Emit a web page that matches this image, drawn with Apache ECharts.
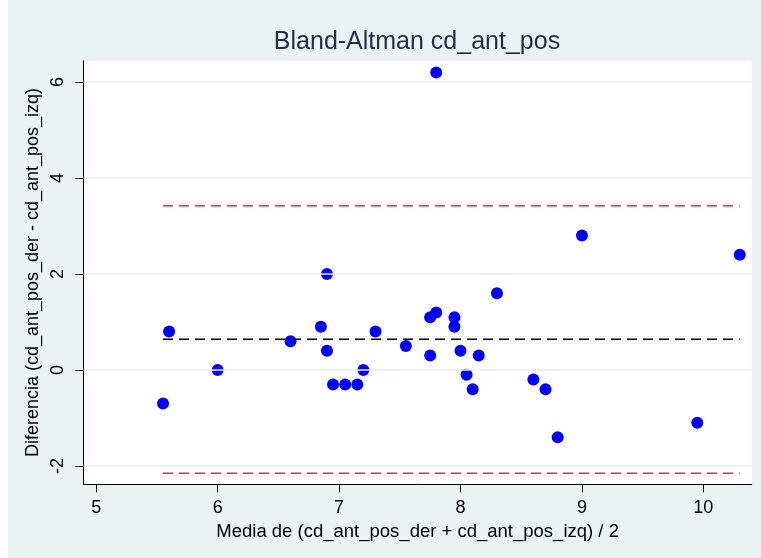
<!DOCTYPE html>
<html>
<head>
<meta charset="utf-8">
<script src="https://cdn.jsdelivr.net/npm/echarts@6/dist/echarts.min.js"></script>
<style>
html,body{margin:0;padding:0;background:#FFFFFF;}
#chart{width:761px;height:558px;}
</style>
</head>
<body>
<div id="chart"></div>
<script>
// Data
var meanVals = [5.55, 5.6, 6.0, 6.6, 6.85, 6.9, 6.9, 6.95, 7.05, 7.15, 7.2, 7.3, 7.55, 7.75, 7.8, 7.75, 7.8, 7.95, 7.95, 8.0, 8.05, 8.1, 8.15, 8.3, 8.6, 8.7, 8.8, 9.0, 9.95, 10.3];
var diffVals = [-0.7, 0.8, 0.0, 0.6, 0.9, 0.4, 2.0, -0.3, -0.3, -0.3, 0.0, 0.8, 0.5, 1.1, 1.2, 0.3, 6.2, 1.1, 0.9, 0.4, -0.1, -0.4, 0.3, 1.6, -0.2, -0.4, -1.4, 2.8, -1.1, 2.4];
var meanDiff = 0.64;
var upperLoA = 3.42;
var lowerLoA = -2.15;
var xTicks = [5, 6, 7, 8, 9, 10];
var yTicks = [-2, 0, 2, 4, 6];
var xRange = [4.895, 10.398];
var yRange = [-2.381, 6.444];

var points = meanVals.map(function (m, i) { return [m, diffVals[i]]; });
var xMin = Math.min.apply(null, meanVals);
var xMax = Math.max.apply(null, meanVals);

var chart = echarts.init(document.getElementById('chart'));
var font = '"Liberation Sans", Arial, Helvetica, sans-serif';

function hLine(y, color) {
  return {
    type: 'line',
    data: [[xMin, y], [xMax, y]],
    symbol: 'none',
    silent: true,
    z: 5,
    lineStyle: { color: color, width: 1.5, type: [10, 6] },
    animation: false
  };
}

chart.setOption({
  backgroundColor: '#FFFFFF',
  animation: false,
  graphic: [{
    type: 'rect', left: 8, top: 0, z: -10, silent: true,
    shape: { width: 753, height: 558 },
    style: { fill: '#EAF2F3' }
  }],
  title: {
    text: 'Bland-Altman cd_ant_pos',
    left: 417, top: 30, textAlign: 'center', padding: 0,
    textStyle: { fontFamily: font, fontSize: 25, fontWeight: 'normal', color: '#1F2D4E' }
  },
  grid: {
    left: 83.5, top: 60.7, right: 9.3, bottom: 73.7,
    show: true, backgroundColor: '#FFFFFF', borderWidth: 0
  },
  xAxis: {
    type: 'value',
    min: xRange[0], max: xRange[1],
    name: 'Media de (cd_ant_pos_der + cd_ant_pos_izq) / 2',
    nameLocation: 'middle', nameGap: 29,
    nameTextStyle: { fontFamily: font, fontSize: 18.5, color: '#000' },
    axisLine: { show: true, onZero: false, lineStyle: { color: '#000', width: 1 } },
    axisTick: { show: true, length: 8, lineStyle: { color: '#000' }, customValues: xTicks },
    axisLabel: { fontFamily: font, fontSize: 18, color: '#000', margin: 15, customValues: xTicks },
    splitLine: { show: false }
  },
  yAxis: {
    type: 'value',
    min: yRange[0], max: yRange[1],
    name: 'Diferencia (cd_ant_pos_der - cd_ant_pos_izq)',
    nameLocation: 'middle', nameGap: 27, nameRotate: 90,
    nameTextStyle: { fontFamily: font, fontSize: 18, color: '#000' },
    axisLine: { show: true, onZero: false, lineStyle: { color: '#000', width: 1 } },
    axisTick: { show: true, length: 8, lineStyle: { color: '#000' }, customValues: yTicks },
    axisLabel: { fontFamily: font, fontSize: 18, color: '#000', rotate: 90, margin: 16, customValues: yTicks },
    splitLine: { show: false }
  },
  series: [
    {
      type: 'scatter',
      data: [],
      silent: true,
      markLine: {
        silent: true,
        symbol: 'none',
        label: { show: false },
        lineStyle: { color: '#E4EEF0', width: 1.5, type: 'solid' },
        data: yTicks.map(function (v) { return { yAxis: v }; }),
        animation: false
      }
    },
    {
      type: 'scatter',
      data: points,
      symbol: 'circle',
      symbolSize: 12,
      z: 4,
      itemStyle: { color: '#0000FF', opacity: 1 }
    },
    hLine(upperLoA, '#FF2828'),
    hLine(meanDiff, '#000000'),
    hLine(lowerLoA, '#FF2828')
  ]
});
</script>
</body>
</html>
